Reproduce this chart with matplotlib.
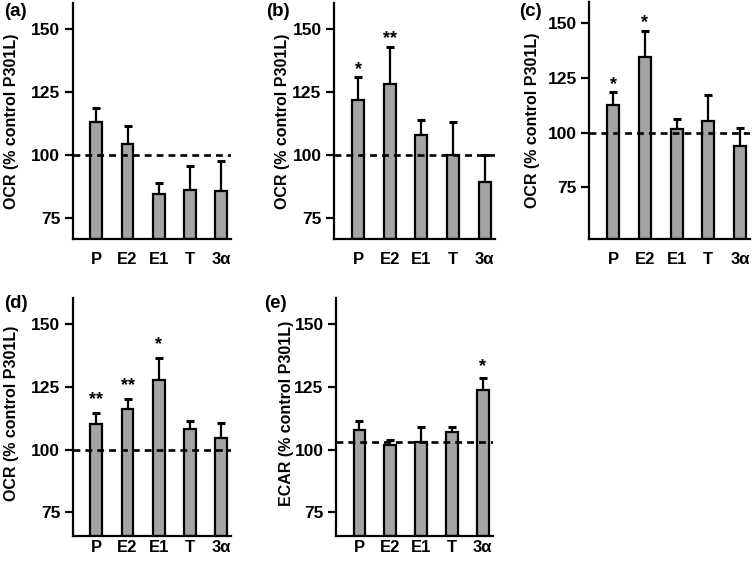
import matplotlib
matplotlib.use('Agg')
import matplotlib.pyplot as plt

plt.rcParams['font.family'] = ['Liberation Sans', 'DejaVu Sans']
plt.rcParams['font.weight'] = 'bold'

categories = ['P', 'E2', 'E1', 'T', '3α']

a_mean = [112.9, 104.3, 84.6, 86.3, 85.9]
a_err = [5.8, 7.1, 4.5, 9.5, 11.7]
a_sig = ['', '', '', '', '']

b_mean = [121.7, 128.0, 108.0, 100.0, 89.2]
b_err = [9.0, 14.8, 6.0, 13.2, 10.8]
b_sig = ['*', '**', '', '', '']

c_mean = [112.8, 134.6, 101.7, 105.4, 94.0]
c_err = [5.7, 12.0, 4.4, 11.9, 8.1]
c_sig = ['*', '*', '', '', '']

d_mean = [110.2, 116.2, 127.7, 108.2, 104.5]
d_err = [4.4, 3.9, 8.7, 3.1, 6.1]
d_sig = ['**', '**', '*', '', '']

e_mean = [107.9, 101.7, 102.9, 107.0, 123.7]
e_err = [3.4, 2.2, 5.9, 1.8, 4.6]
e_sig = ['', '', '', '', '*']

ref_lines = [100, 100, 100, 100, 102.9]
ylabels = ['OCR (% control P301L)'] * 4 + ['ECAR (% control P301L)']
letters = ['(a)', '(b)', '(c)', '(d)', '(e)']
yticks = [75, 100, 125, 150]

W, H = 756, 561
fig = plt.figure(figsize=(W / 100, H / 100), dpi=100)

# pixel layout: (left, right, top, bottom), ylim, ylabel right-edge x, letter pos, star offset px, xlabel pad
panels = [
    dict(rect=(72.7, 231, 3.3, 239.3), ylim=(66.7, 160), labx=19, let=(4, 3), soff=14, xpad=9,
         laby=0.5, mean=a_mean, err=a_err, sig=a_sig),
    dict(rect=(334, 495, 3.3, 239.3), ylim=(66.7, 160), labx=290, let=(266, 3), soff=14, xpad=9,
         laby=0.5, mean=b_mean, err=b_err, sig=b_sig),
    dict(rect=(589.3, 750, 2.0, 239.3), ylim=(51.3, 159.8), labx=540, let=(519, 3), soff=14, xpad=9,
         laby=0.5, mean=c_mean, err=c_err, sig=c_sig),
    dict(rect=(72.7, 231, 298.3, 535.7), ylim=(65.7, 160.2), labx=19, let=(4, 295), soff=19, xpad=3,
         laby=0.515, mean=d_mean, err=d_err, sig=d_sig),
    dict(rect=(336, 492.7, 298.3, 535.7), ylim=(65.7, 160.2), labx=294, let=(264, 295), soff=18, xpad=3,
         laby=0.515, mean=e_mean, err=e_err, sig=e_sig),
]

x = list(range(len(categories)))
for i, p in enumerate(panels):
    l, r, t, b = p['rect']
    ax = fig.add_axes([l / W, 1 - b / H, (r - l) / W, (b - t) / H])
    lo, hi = p['ylim']
    heights = [m - lo for m in p['mean']]
    ax.bar(x, heights, bottom=lo, width=0.38, color='#a4a4a4', edgecolor='black',
           linewidth=1.6, zorder=2)
    ax.errorbar(x, p['mean'], yerr=[[0] * len(x), p['err']], fmt='none', ecolor='black',
                elinewidth=1.6, capsize=3.2, capthick=2.2, zorder=1)
    ax.axhline(ref_lines[i], color='black', linestyle=(0, (2.6, 1.9)), linewidth=1.9, zorder=3)
    for xi, m, e, s in zip(x, p['mean'], p['err'], p['sig']):
        if s:
            ax.annotate(s, xy=(xi, m + e), xytext=(0, p['soff'] * 0.72 - 7.5),
                        textcoords='offset points', ha='center', va='baseline',
                        fontsize=13, fontweight='bold')
    ax.set_xlim(-0.76, 4.32)
    ax.set_ylim(lo, hi)
    ax.set_yticks(yticks)
    ax.set_xticks(x)
    ax.set_xticklabels(categories)
    for sp in ['top', 'right']:
        ax.spines[sp].set_visible(False)
    for sp in ['left', 'bottom']:
        ax.spines[sp].set_linewidth(1.6)
    ax.tick_params(axis='y', direction='out', length=5.5, width=1.6, labelsize=12.5, pad=3.5)
    ax.tick_params(axis='x', length=0, labelsize=12, pad=p['xpad'])
    ax.set_ylabel(ylabels[i], fontsize=11.5, fontweight='bold')
    ax.yaxis.set_label_coords((p['labx'] - l) / (r - l), p['laby'])
    fig.text(p['let'][0] / W, 1 - p['let'][1] / H, letters[i], ha='left', va='top',
             fontsize=13.5, fontweight='bold')

fig.savefig('out.png', dpi=100)
